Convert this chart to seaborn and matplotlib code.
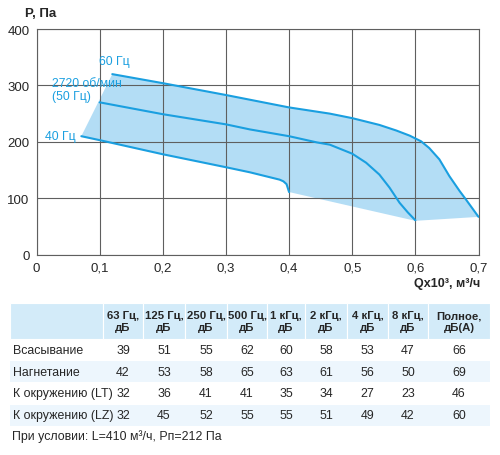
import matplotlib
matplotlib.use("Agg")
import matplotlib.pyplot as plt
import numpy as np
import pandas as pd
import seaborn as sns

# кривые P(Q), Q в тыс. м3/ч
q_60 = [0.12, 0.2, 0.3, 0.4, 0.4645, 0.5, 0.543, 0.57, 0.591, 0.609, 0.622, 0.638,
        0.654, 0.67, 0.68, 0.691, 0.70]
p_60 = [320, 304, 283, 261, 250, 242, 230, 220, 211, 201, 189, 169, 139, 113, 98, 81, 67]
q_50 = [0.1, 0.2, 0.3, 0.338, 0.4, 0.444, 0.4645, 0.5, 0.522, 0.543, 0.559, 0.575, 0.588, 0.6]
p_50 = [270, 249, 231, 222, 210, 199, 195, 179, 163, 142, 119, 92, 75, 61]
q_40 = [0.071, 0.1, 0.2, 0.3, 0.338, 0.385, 0.391, 0.396, 0.4]
p_40 = [210, 203, 178, 155, 146, 133, 130, 125, 111]
# нижняя граница рабочей зоны
q_low = [0.70, 0.6, 0.4]
p_low = [67, 60, 111]

x_ticks = [0, 0.1, 0.2, 0.3, 0.4, 0.5, 0.6, 0.7]
x_tick_labels = ["0", "0,1", "0,2", "0,3", "0,4", "0,5", "0,6", "0,7"]
y_ticks = [0, 100, 200, 300, 400]

# таблица шума
col_labels = ["63 Гц,\nдБ", "125 Гц,\nдБ", "250 Гц,\nдБ", "500 Гц,\nдБ", "1 кГц,\nдБ",
              "2 кГц,\nдБ", "4 кГц,\nдБ", "8 кГц,\nдБ", "Полное,\nдБ(А)"]
row_labels = ["Всасывание", "Нагнетание", "К окружению (LT)", "К окружению (LZ)"]
noise = [
    [39, 51, 55, 62, 60, 58, 53, 47, 66],
    [42, 53, 58, 65, 63, 61, 56, 50, 69],
    [32, 36, 41, 41, 35, 34, 27, 23, 46],
    [32, 45, 52, 55, 55, 51, 49, 42, 60],
]
note = "При условии: L=410 м³/ч, Рп=212 Па"

sns.set_style("white")
plt.rcParams['font.family'] = ['Liberation Sans', 'DejaVu Sans']

blue = "#1a9fe0"
fill_c = "#a6d7f4"

fig = plt.figure(figsize=(5.0, 4.56), dpi=100)
ax = fig.add_axes([0.073, 0.4393, 0.884, 0.4949])

ax.set_xlim(0, 0.7)
ax.set_ylim(0, 400)
ax.set_xticks(x_ticks)
ax.set_xticklabels(x_tick_labels)
ax.set_yticks(y_ticks)
ax.grid(True, color="#5f5f5f", linewidth=0.8)
ax.set_axisbelow(True)
for s in ax.spines.values():
    s.set_color("#5f5f5f")
    s.set_linewidth(0.8)
ax.tick_params(axis="both", labelsize=9.5, length=3, color="#333333", pad=2)

# зона (под сеткой, чтобы линии сетки просвечивали)
poly_q = [q_40[0]] + q_60 + q_low + q_40[::-1]
poly_p = [p_40[0]] + p_60 + p_low + p_40[::-1]
ax.fill(poly_q, poly_p, color=fill_c, alpha=0.85, linewidth=0, zorder=0.2)

curves = pd.concat([
    pd.DataFrame({"Q": q_60, "P": p_60, "f": "60"}),
    pd.DataFrame({"Q": q_50, "P": p_50, "f": "50"}),
    pd.DataFrame({"Q": q_40, "P": p_40, "f": "40"}),
])
sns.lineplot(data=curves, x="Q", y="P", units="f", estimator=None, sort=False,
             color=blue, linewidth=1.5, ax=ax, zorder=3)
ax.set_xlabel("")
ax.set_ylabel("")

ax.text(0.099, 343, "60 Гц", color=blue, fontsize=8.8, ha="left", va="center")
ax.text(0.025, 292, "2720 об/мин\n(50 Гц)", color=blue, fontsize=8.8, ha="left",
        va="center", linespacing=1.1)
ax.text(0.062, 211, "40 Гц", color=blue, fontsize=8.8, ha="right", va="center")

fig.text(25 / 500, 1 - 14 / 456, "P, Па", fontsize=9.5, fontweight="bold", ha="left", va="center")
fig.text(480 / 500, 1 - 284 / 456, "Qx10³, м³/ч", fontsize=9, fontweight="bold",
         ha="right", va="center")

# таблица
tax = fig.add_axes([10 / 500, 1 - 427 / 456, 480 / 500, 123 / 456])
col_w = [93, 40, 42, 42, 40, 38, 42, 41, 40, 62]
edges = np.concatenate([[0], np.cumsum(col_w)])
head_h = 36
row_h = 21.75
total_h = head_h + row_h * len(row_labels)
tax.set_xlim(0, edges[-1])
tax.set_ylim(total_h, 0)
tax.axis("off")

head_bg = "#d3ebf9"
alt_bg = "#edf6fd"
for i in range(len(col_w)):
    tax.add_patch(plt.Rectangle((edges[i], 0), col_w[i], head_h, facecolor=head_bg,
                                edgecolor="white", linewidth=0.8))
for j, lab in enumerate(col_labels):
    cx = (edges[j + 1] + edges[j + 2]) / 2
    tax.text(cx, head_h / 2, lab, ha="center", va="center", fontsize=8.2,
             fontweight="bold", linespacing=1.15)
for r, lab in enumerate(row_labels):
    y0 = head_h + r * row_h
    bg = alt_bg if r % 2 == 1 else "white"
    tax.add_patch(plt.Rectangle((0, y0 + 0.5), edges[-1], row_h - 1, facecolor=bg,
                                edgecolor="none"))
    tax.text(3, y0 + row_h / 2, lab, ha="left", va="center", fontsize=8.9)
    for j, v in enumerate(noise[r]):
        cx = (edges[j + 1] + edges[j + 2]) / 2
        tax.text(cx, y0 + row_h / 2, str(v), ha="center", va="center", fontsize=8.9)

fig.text(12 / 500, 1 - 437 / 456, note, fontsize=8.9, ha="left", va="center")

fig.savefig("out.png", dpi=100, facecolor="white")
